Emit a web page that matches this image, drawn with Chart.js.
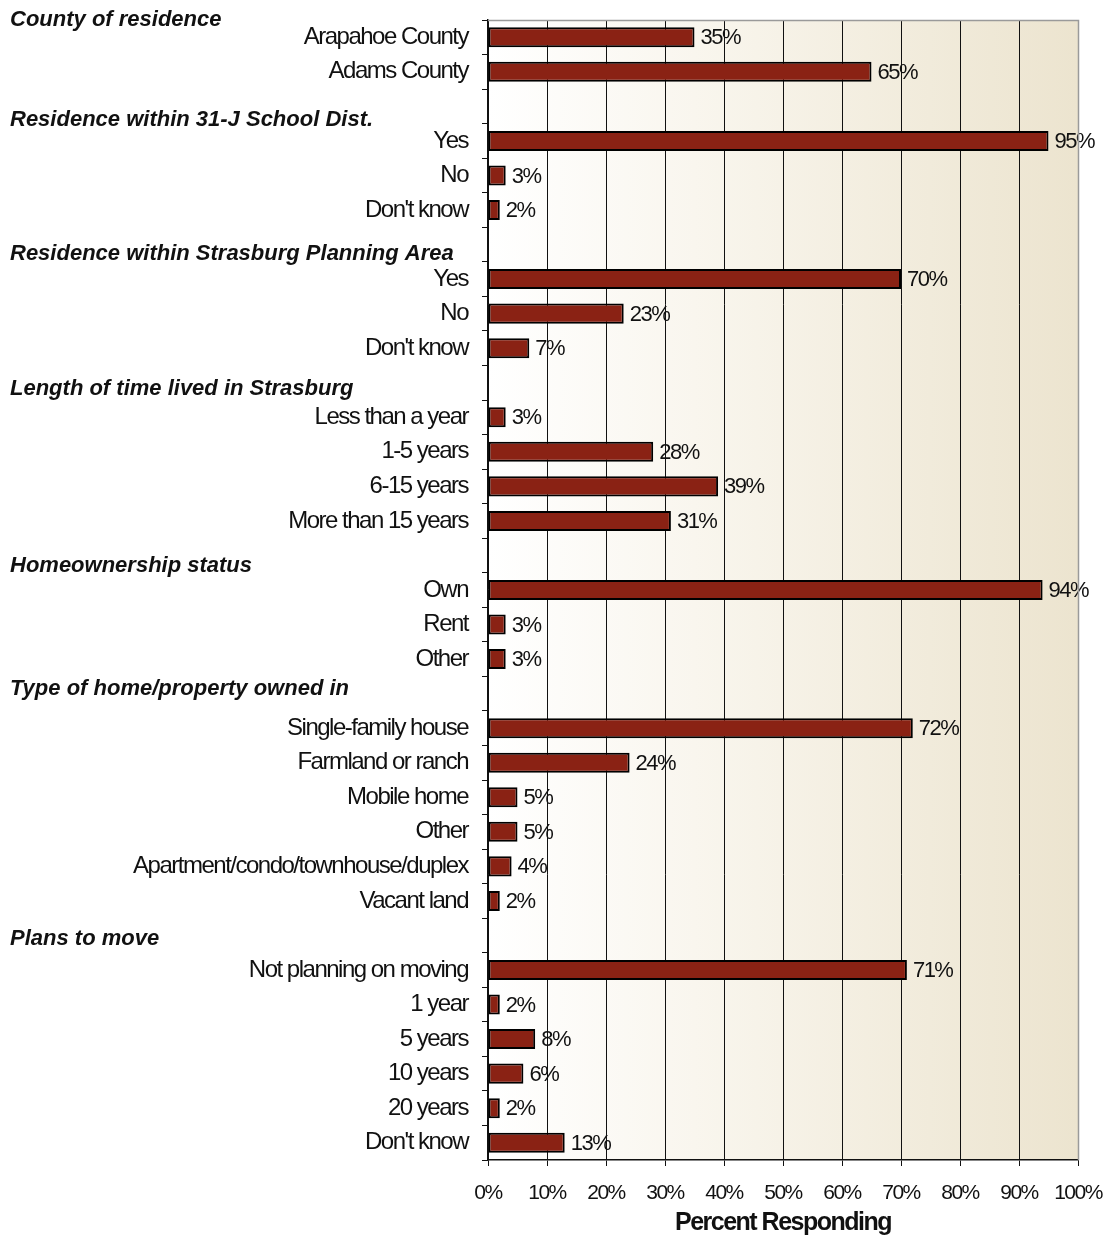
<!DOCTYPE html>
<html>
<head>
<meta charset="utf-8">
<script src="https://cdn.jsdelivr.net/npm/chart.js@4.4.1/dist/chart.umd.min.js"></script>
<style>
html,body{margin:0;padding:0;background:#fff;}
#wrap{width:1107px;height:1238px;position:relative;}
</style>
</head>
<body>
<div id="wrap"><canvas id="surveyChart"></canvas></div>
<script>
//Data - empty label + null value = spacer row that carries a group heading
var rowLabels = [
	"Arapahoe County","Adams County",
	"",
	"Yes","No","Don't know",
	"",
	"Yes","No","Don't know",
	"",
	"Less than a year","1-5 years","6-15 years","More than 15 years",
	"",
	"Own","Rent","Other",
	"",
	"Single-family house","Farmland or ranch","Mobile home","Other","Apartment/condo/townhouse/duplex","Vacant land",
	"",
	"Not planning on moving","1 year","5 years","10 years","20 years","Don't know"
];
var percentValues = [
	35,65,
	null,
	95,3,2,
	null,
	70,23,7,
	null,
	3,28,39,31,
	null,
	94,3,3,
	null,
	72,24,5,5,4,2,
	null,
	71,2,8,6,2,13
];
var groupTitles = [
	"County of residence",
	"Residence within 31-J School Dist.",
	"Residence within Strasburg Planning Area",
	"Length of time lived in Strasburg",
	"Homeownership status",
	"Type of home/property owned in",
	"Plans to move"
];
var xTicks = [0,10,20,30,40,50,60,70,80,90,100];

//no Arial Narrow here, so squeeze Liberation Sans a bit
var FONT = "'Liberation Sans',Arial,sans-serif";
var SQUEEZE = '-1.5px';

var narrowText = {
	id:'narrowText',
	beforeUpdate:function(chart){chart.ctx.letterSpacing = SQUEEZE;},
	beforeLayout:function(chart){chart.ctx.letterSpacing = SQUEEZE;},
	beforeDraw:function(chart){chart.ctx.letterSpacing = SQUEEZE;}
};

//Plot background gradient + grey top/right frame
var plotBg = {
	id:'plotBg',
	beforeDraw:function(chart){
		var a = chart.chartArea, c = chart.ctx;
		var g = c.createLinearGradient(a.left,0,a.right,0);
		g.addColorStop(0,'#ffffff');
		g.addColorStop(0.35,'#f9f6ee');
		g.addColorStop(1,'#ece4cf');
		c.save();
		c.fillStyle = g;
		c.fillRect(a.left,a.top,a.right-a.left,a.bottom-a.top);
		c.restore();
	},
	afterDraw:function(chart){
		var a = chart.chartArea, c = chart.ctx;
		c.save();
		c.strokeStyle = '#9a9a9a';
		c.lineWidth = 1.5;
		c.beginPath();
		c.moveTo(a.left,a.top+0.5);
		c.lineTo(a.right+0.5,a.top+0.5);
		c.lineTo(a.right+0.5,a.bottom);
		c.stroke();
		c.restore();
	}
};

//Value labels + group headings
var barText = {
	id:'barText',
	afterDatasetsDraw:function(chart){
		var c = chart.ctx, meta = chart.getDatasetMeta(0);
		c.save();
		c.letterSpacing = SQUEEZE;
		c.font = "22px " + FONT;
		c.fillStyle = '#111';
		c.textAlign = 'left';
		c.textBaseline = 'middle';
		meta.data.forEach(function(bar,i){
			var v = percentValues[i];
			if(v===null){return;}
			c.fillText(v + '%', bar.x + 6, bar.y + 1);
		});
		//headings: first one sits above the plot, the rest on spacer rows
		var yScale = chart.scales.y, step = yScale.getPixelForValue(1) - yScale.getPixelForValue(0);
		var nudge = [17,14,9,6,10,-5,3];
		c.letterSpacing = '0px';
		c.font = "italic bold 22px " + FONT;
		var gi = 0;
		c.fillText(groupTitles[gi], 10, yScale.getPixelForValue(0) - step + nudge[gi]);
		for(var i=0;i<rowLabels.length;i++){
			if(percentValues[i]===null){
				gi++;
				c.fillText(groupTitles[gi], 10, yScale.getPixelForValue(i) + nudge[gi]);
			}
		}
		c.restore();
	}
};

var ctx = document.getElementById('surveyChart');
var surveyChart = new Chart(ctx,{
	type:'bar',
	data:{
		labels:rowLabels,
		datasets:[{
			label:'Percent Responding',
			data:percentValues,
			backgroundColor:'#8a2214',
			borderColor:'#000',
			borderWidth:2,
			borderSkipped:false,
			barPercentage:0.58,
			categoryPercentage:1
		}]
	},
	options:{
		indexAxis:'y',
		responsive:true,
		maintainAspectRatio:false,
		animation:false,
		layout:{padding:{top:20,right:29,left:0,bottom:0}},
		plugins:{
			legend:{display:false},
			tooltip:{enabled:false}
		},
		scales:{
			x:{
				min:0,
				max:100,
				afterBuildTicks:function(scale){
					scale.ticks = xTicks.map(function(v){return {value:v};});
				},
				afterFit:function(scale){
					scale.height = 78;
					scale.paddingLeft = 0;
					scale.paddingRight = 0;
				},
				grid:{
					color:function(c){return c.tick && c.tick.value===100 ? '#9a9a9a' : '#111';},
					lineWidth:1,
					drawTicks:true,
					tickLength:6,
					tickColor:'#111'
				},
				border:{display:true,color:'#111',width:1.5},
				ticks:{
					padding:15,
					maxRotation:0,
					minRotation:0,
					autoSkip:false,
					color:'#111',
					font:{family:FONT,size:21},
					callback:function(v){return v + '%';}
				},
				title:{
					display:true,
					text:'Percent Responding',
					color:'#111',
					font:{family:FONT,size:25,weight:'bold'},
					padding:{top:0,bottom:0}
				}
			},
			y:{
				afterFit:function(scale){
					scale.width = 488;
					scale.paddingTop = 0;
					scale.paddingBottom = 0;
				},
				grid:{
					offset:true,
					drawOnChartArea:false,
					drawTicks:true,
					tickLength:6,
					tickColor:'#111'
				},
				border:{display:true,color:'#111',width:1.5},
				ticks:{
					autoSkip:false,
					padding:14,
					color:'#111',
					font:{family:FONT,size:24}
				}
			}
		}
	},
	plugins:[narrowText,plotBg,barText]
});
</script>
</body>
</html>
